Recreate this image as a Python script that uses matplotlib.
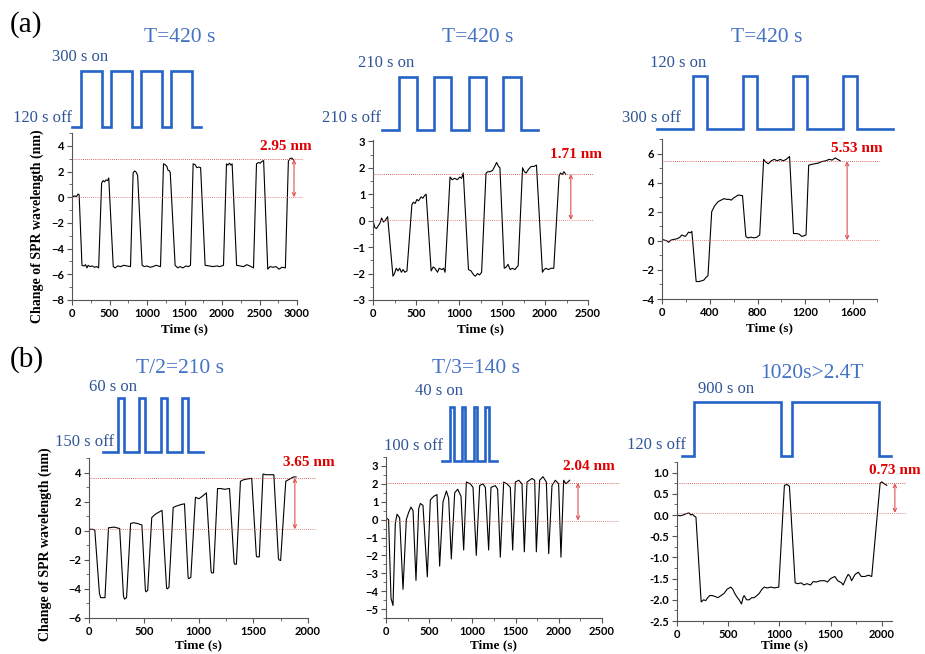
import matplotlib
matplotlib.use("Agg")
import matplotlib.pyplot as plt
from matplotlib.ticker import MultipleLocator, AutoMinorLocator, FormatStrFormatter

W, H = 925, 654

# ---------------- data: (time s, SPR shift nm) ----------------
a1_trace = [(0, 0.2), (20, 0.05), (40, 0.1), (60, 0.05), (80, 0.25), (95, 0.2),
            (133, -5.3), (160, -5.35), (180, -5.25), (200, -5.5), (215, -5.3), (240, -5.4),
            (270, -5.35), (300, -5.45), (330, -5.4), (355, -5.5), (395, 1.1), (415, 1.3),
            (435, 1.2), (455, 1.35), (475, 1.3), (490, 1.5), (550, -5.4), (575, -5.5),
            (610, -5.35), (650, -5.4), (690, -5.3), (730, -5.35), (780, -5.4), (815, 1.9),
            (835, 2.05), (855, 1.95), (875, 1.7), (935, -5.3), (965, -5.4), (1000, -5.35),
            (1040, -5.45), (1080, -5.4), (1120, -5.3), (1150, -5.35), (1180, -5.4),
            (1220, 2.6), (1240, 2.55), (1265, 2.4), (1280, 2.1), (1300, 2.05), (1310, 1.9),
            (1375, -5.3), (1410, -5.5), (1440, -5.4), (1480, -5.5), (1520, -5.35),
            (1550, -5.4), (1580, -5.3), (1615, 2.6), (1640, 2.55), (1665, 2.3),
            (1690, 2.35), (1715, 2.3), (1775, -5.3), (1830, -5.35), (1880, -5.4),
            (1930, -5.35), (1970, -5.4), (2020, -5.3), (2060, 2.6), (2080, 2.5),
            (2100, 2.65), (2120, 2.5), (2135, 2.6), (2195, -5.3), (2240, -5.35),
            (2290, -5.4), (2330, -5.25), (2370, -5.35), (2420, -5.5), (2460, 2.6),
            (2485, 2.7), (2510, 2.65), (2535, 2.8), (2555, 2.85), (2610, -5.6),
            (2640, -5.4), (2680, -5.45), (2720, -5.4), (2760, -5.6), (2800, -5.45),
            (2845, -5.5), (2885, 2.8), (2905, 3.0), (2930, 3.05), (2955, 2.9)]

a2_trace = [(0, 0.0), (20, -0.25), (40, -0.3), (60, -0.2), (80, -0.1), (100, 0.1),
            (120, -0.05), (140, 0.0), (170, 0.15), (232, -2.1), (250, -2.0), (270, -1.8),
            (290, -1.9), (310, -1.8), (330, -1.95), (350, -1.85), (370, -1.95), (395, -1.9),
            (452, 0.6), (470, 0.7), (490, 0.65), (510, 0.8), (530, 0.75), (560, 0.9),
            (580, 0.85), (600, 0.95), (618, 1.0), (676, -1.9), (700, -1.75), (720, -1.8),
            (750, -1.95), (770, -1.8), (800, -1.85), (820, -1.8), (838, -1.95), (896, 1.65),
            (920, 1.55), (950, 1.6), (980, 1.55), (1010, 1.65), (1030, 1.6), (1050, 1.8),
            (1110, -1.85), (1140, -1.9), (1170, -2.05), (1190, -2.1), (1215, -2.0),
            (1240, -2.05), (1263, -1.95), (1314, 1.8), (1335, 1.85), (1360, 1.85),
            (1390, 1.9), (1415, 2.05), (1437, 2.2), (1460, 2.05), (1476, 2.0),
            (1526, -1.8), (1550, -1.75), (1570, -1.65), (1595, -1.85), (1620, -1.8),
            (1650, -1.85), (1688, -1.7), (1739, 2.0), (1760, 1.85), (1780, 1.8),
            (1810, 1.95), (1840, 2.05), (1870, 2.05), (1901, 2.1), (1970, -1.95),
            (1990, -1.85), (2010, -1.8), (2040, -1.85), (2070, -1.8), (2102, -1.8),
            (2164, 1.7), (2180, 1.8), (2200, 1.75), (2220, 1.85), (2241, 1.75)]

a3_trace = [(0, 0.1), (20, 0.05), (40, 0.0), (55, -0.1), (75, 0.05), (100, 0.1),
            (130, 0.15), (150, 0.25), (166, 0.4), (180, 0.35), (195, 0.3), (210, 0.45),
            (222, 0.6), (238, 0.55), (250, 0.65), (286, -2.8), (310, -2.8), (330, -2.75),
            (350, -2.7), (370, -2.5), (385, -2.4), (416, 2.0), (440, 2.4), (471, 2.7),
            (495, 2.8), (520, 2.9), (540, 2.85), (560, 2.85), (580, 2.8), (600, 2.95),
            (620, 3.05), (638, 3.15), (674, 3.1), (702, 0.3), (720, 0.2), (745, 0.25),
            (770, 0.2), (795, 0.25), (818, 0.4), (851, 5.6), (870, 5.4), (890, 5.3),
            (915, 5.5), (940, 5.6), (965, 5.5), (990, 5.6), (1015, 5.5), (1040, 5.6),
            (1068, 5.8), (1101, 0.5), (1130, 0.5), (1150, 0.45), (1170, 0.3), (1190, 0.35),
            (1206, 0.4), (1228, 5.2), (1250, 5.25), (1280, 5.3), (1310, 5.35), (1340, 5.45),
            (1370, 5.5), (1400, 5.6), (1425, 5.55), (1450, 5.7), (1470, 5.6), (1492, 5.5)]

b1_trace = [(0, 0.1), (30, 0.1), (53, 0.05), (95, -4.3), (106, -4.6), (146, -4.6),
            (178, 0.2), (230, 0.25), (280, 0.15), (315, -4.5), (324, -4.7), (343, -4.6),
            (380, 0.5), (410, 0.55), (440, 0.5), (483, 0.4), (515, -4.1), (520, -4.2),
            (536, -4.1), (573, 0.9), (600, 1.1), (620, 1.2), (667, 1.4), (708, -3.9),
            (713, -4.0), (730, -3.9), (769, 1.6), (800, 1.7), (840, 1.8), (872, 1.85),
            (905, -3.2), (910, -3.3), (930, -3.2), (972, 2.3), (1005, 2.2), (1040, 2.4),
            (1072, 2.6), (1115, -2.8), (1121, -2.9), (1137, -2.9), (1174, 2.9), (1205, 2.9),
            (1236, 2.85), (1283, 2.9), (1325, -2.2), (1330, -2.3), (1346, -2.3),
            (1383, 3.4), (1410, 3.5), (1439, 3.55), (1486, 3.6), (1528, -1.7), (1533, -1.8),
            (1555, -1.8), (1589, 3.9), (1615, 3.85), (1642, 3.85), (1688, 3.85),
            (1730, -1.9), (1735, -2.0), (1750, -2.05), (1797, 3.4), (1820, 3.5),
            (1844, 3.6), (1870, 3.7), (1891, 3.7)]

b2_trace = [(0, 0.1), (30, 0.0), (58, -4.4), (81, -4.8), (108, -0.2), (128, 0.3),
            (158, 0.1), (197, -3.9), (235, 0.0), (262, 0.4), (289, 0.7), (313, 0.5),
            (347, -3.4), (378, 0.6), (397, 0.9), (428, 0.8), (478, -3.2), (513, 1.1),
            (552, 1.3), (590, 1.4), (621, -2.6), (660, 1.0), (699, 1.6), (725, 1.2),
            (756, -2.2), (795, 1.5), (830, 1.7), (868, 1.3), (899, -1.7), (930, 2.1),
            (976, 2.0), (1007, 1.8), (1045, -2.0), (1084, 1.9), (1122, 2.0), (1150, 1.8),
            (1188, -1.7), (1215, 1.8), (1265, 1.9), (1292, 1.7), (1323, -2.1), (1362, 2.1),
            (1400, 2.0), (1439, 1.8), (1466, -1.7), (1497, 2.1), (1536, 2.2), (1574, 2.0),
            (1601, -1.8), (1632, 2.1), (1690, 2.3), (1721, 2.2), (1740, -1.8), (1778, 2.2),
            (1817, 2.4), (1856, 2.1), (1883, -1.9), (1921, 1.9), (1960, 2.2), (1998, 2.0),
            (2025, -2.1), (2056, 2.2), (2083, 2.0), (2126, 2.2)]

b3_trace = [(0, 0.0), (30, -0.02), (60, 0.0), (90, 0.03), (115, 0.05), (135, 0.0),
            (150, 0.02), (170, -0.03), (185, -0.05), (236, -2.05), (260, -2.0),
            (280, -2.02), (300, -1.95), (320, -1.9), (344, -1.9), (370, -1.92),
            (400, -1.95), (430, -1.9), (459, -1.85), (490, -1.75), (525, -1.7),
            (545, -1.75), (564, -1.85), (590, -1.95), (607, -2.0), (630, -2.1),
            (645, -1.95), (656, -1.9), (680, -2.0), (705, -2.0), (730, -1.95),
            (754, -1.95), (780, -1.9), (803, -1.85), (830, -1.75), (853, -1.7),
            (880, -1.72), (918, -1.7), (950, -1.72), (994, -1.7), (1049, 0.7),
            (1075, 0.72), (1098, 0.68), (1154, -1.6), (1180, -1.62), (1213, -1.6),
            (1240, -1.65), (1270, -1.62), (1305, -1.65), (1330, -1.57), (1360, -1.58),
            (1400, -1.55), (1443, -1.55), (1470, -1.58), (1500, -1.5), (1541, -1.45),
            (1570, -1.55), (1607, -1.6), (1623, -1.65), (1650, -1.5), (1672, -1.4),
            (1690, -1.45), (1705, -1.55), (1740, -1.4), (1771, -1.35), (1800, -1.45),
            (1836, -1.45), (1870, -1.42), (1902, -1.45), (1984, 0.75), (2000, 0.78),
            (2016, 0.75), (2049, 0.7)]

# light pulses: seconds on, seconds off, number of pulses
pulse_on = [300, 210, 120, 60, 40, 900]
pulse_off = [120, 210, 300, 150, 100, 120]
pulse_count = [4, 4, 4, 4, 4, 2]

period_titles = ["T=420 s", "T=420 s", "T=420 s", "T/2=210 s", "T/3=140 s", "1020s>2.4T"]
on_labels = ["300 s on", "210 s on", "120 s on", "60 s on", "40 s on", "900 s on"]
off_labels = ["120 s off", "210 s off", "300 s off", "150 s off", "100 s off", "120 s off"]

amp_labels = ["2.95 nm", "1.71 nm", "5.53 nm", "3.65 nm", "2.04 nm", "0.73 nm"]
amp_top = [2.95, 1.76, 5.47, 3.63, 2.06, 0.75]
amp_base = [0.0, 0.03, 0.05, 0.1, -0.05, 0.05]
amp_arrow_x = [2960, 2300, 1550, 1880, 2222, 2128]
amp_line_end = [3070, 2560, 1820, 2070, 2700, 2230]

x_limits = [(0, 3000), (0, 2500), (0, 1800), (0, 2000), (0, 2500), (0, 2100)]
y_limits = [(-8, 5), (-3, 3.05), (-4, 7), (-6, 5), (-5.5, 3.5), (-2.5, 1.25)]
x_steps = [500, 500, 400, 500, 500, 500]
y_steps = [2, 1, 2, 2, 1, 0.5]

traces = [a1_trace, a2_trace, a3_trace, b1_trace, b2_trace, b3_trace]

# ---------------- layout (pixels: left, top, right, bottom) ----------------
axes_px = [(72, 133, 297, 300), (373, 140, 588, 300), (662, 139, 877, 299),
           (89, 458, 308, 618), (386, 457, 602, 618), (677, 462, 892, 621)]
wave_px = [(72, 71, 201, 127), (382, 77, 538, 130), (657, 76, 893, 129),
           (103, 398, 203, 452), (442, 407, 497, 461), (682, 402, 891, 456)]
title_px = [(180, 37), (478, 37), (767, 37), (180, 369), (476, 369), (812, 373)]
on_px = [(52, 57), (358, 63), (650, 63), (89, 387), (415, 391), (698, 389)]
off_px = [(13, 118), (322, 118), (622, 118), (55, 442), (384, 446), (627, 445)]
amp_px = [(260, 147), (550, 154), (831, 148), (283, 463), (563, 467), (869, 470)]
ylabel_px = [(37, 226), (45, 544)]
xlabel_pad = [3, 3, 3, 2, 2, 0]

TITLE_BLUE = "#4472C4"
LABEL_BLUE = "#2F5597"
WAVE_BLUE = "#2563C8"
SERIF = "Liberation Serif"
TICKFONT = "Lato"


def px_rect(l, t, r, b):
    return [l / W, 1 - b / H, (r - l) / W, (b - t) / H]


def fx(x):
    return x / W


def fy(y):
    return 1 - y / H


def draw_pulses(fig, rect, on, off, n):
    # build the on/off waveform in seconds
    t, lvl = [0], [0]
    now = off
    for i in range(n):
        t += [now, now, now + on, now + on]
        lvl += [0, 1, 1, 0]
        now += on + off
    t.append(now)
    lvl.append(0)
    ax = fig.add_axes(px_rect(*rect))
    ax.plot(t, lvl, color=WAVE_BLUE, lw=1.9, solid_joinstyle="miter", clip_on=False)
    ax.set_xlim(0, now)
    ax.set_ylim(0, 1)
    ax.axis("off")


fig = plt.figure(figsize=(W / 100, H / 100), dpi=100)

for i in range(6):
    ax = fig.add_axes(px_rect(*axes_px[i]))
    t, v = zip(*traces[i])
    ax.plot(t, v, color="black", lw=0.8)
    ax.set_xlim(*x_limits[i])
    ax.set_ylim(*y_limits[i])
    ax.xaxis.set_major_locator(MultipleLocator(x_steps[i]))
    ax.yaxis.set_major_locator(MultipleLocator(y_steps[i]))
    ax.xaxis.set_minor_locator(AutoMinorLocator(2))
    ax.yaxis.set_minor_locator(AutoMinorLocator(2))
    if i == 5:
        ax.yaxis.set_major_formatter(FormatStrFormatter("%.1f"))
    for s in ["top", "right"]:
        ax.spines[s].set_visible(False)
    for s in ["left", "bottom"]:
        ax.spines[s].set_color("#555555")
        ax.spines[s].set_linewidth(0.8)
    ax.tick_params(which="major", length=3.5, width=0.8, color="#555555", pad=2)
    ax.tick_params(which="minor", length=2, width=0.6, color="#555555")
    for lab in ax.get_xticklabels() + ax.get_yticklabels():
        lab.set_fontfamily(TICKFONT)
        lab.set_fontweight("bold")
        lab.set_fontsize(8)
    ax.set_xlabel("Time (s)", fontfamily=SERIF, fontweight="bold", fontsize=9.5,
                  labelpad=xlabel_pad[i])

    # amplitude markers
    x0 = x_limits[i][0]
    ax.plot([x0, amp_line_end[i]], [amp_top[i]] * 2, color="#D03030", lw=0.6,
            ls=(0, (1, 1.5)), clip_on=False)
    ax.plot([x0, amp_line_end[i]], [amp_base[i]] * 2, color="#E06060", lw=0.6,
            ls=(0, (1, 1.5)), clip_on=False)
    ax.annotate("", xy=(amp_arrow_x[i], amp_top[i]), xytext=(amp_arrow_x[i], amp_base[i]),
                arrowprops=dict(arrowstyle="<->", color="#E05050", lw=0.8,
                                mutation_scale=6, shrinkA=0, shrinkB=0),
                annotation_clip=False)

    # stimulation pulses above each panel
    draw_pulses(fig, wave_px[i], pulse_on[i], pulse_off[i], pulse_count[i])

    fig.text(fx(title_px[i][0]), fy(title_px[i][1]), period_titles[i], color=TITLE_BLUE,
             fontfamily=SERIF, fontsize=15.5, ha="center", va="center")
    fig.text(fx(on_px[i][0]), fy(on_px[i][1]), on_labels[i], color=LABEL_BLUE,
             fontfamily=SERIF, fontsize=12, ha="left", va="center")
    fig.text(fx(off_px[i][0]), fy(off_px[i][1]), off_labels[i], color=LABEL_BLUE,
             fontfamily=SERIF, fontsize=12, ha="left", va="center")
    fig.text(fx(amp_px[i][0]), fy(amp_px[i][1]), amp_labels[i], color="#E00000",
             fontfamily=SERIF, fontweight="bold", fontsize=11, ha="left", va="center")

for x, y in ylabel_px:
    fig.text(fx(x), fy(y), "Change of SPR wavelength (nm)", rotation=90,
             fontfamily=SERIF, fontweight="bold", fontsize=10, ha="center", va="center")

fig.text(fx(10), fy(25), "(a)", fontfamily=SERIF, fontsize=21, ha="left", va="center")
fig.text(fx(10), fy(360), "(b)", fontfamily=SERIF, fontsize=21, ha="left", va="center")

fig.savefig("out.png", dpi=100)
